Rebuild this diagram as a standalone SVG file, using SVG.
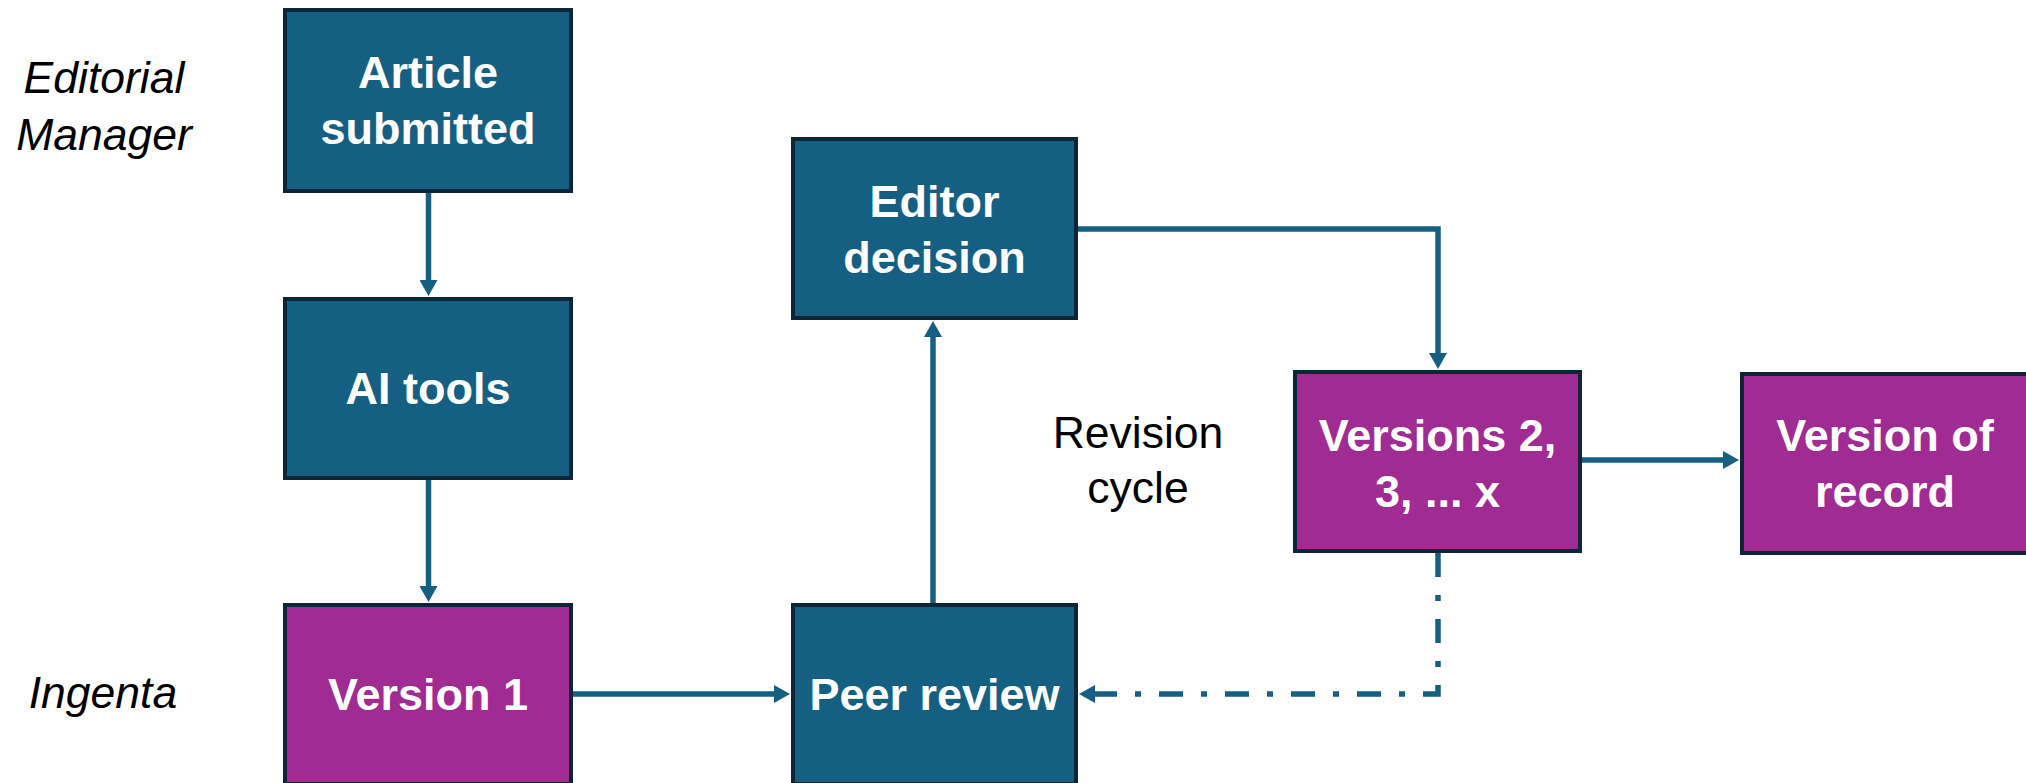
<svg xmlns="http://www.w3.org/2000/svg" width="2026" height="783" viewBox="0 0 2026 783">
<style>
.box{stroke:#0c2638;stroke-width:4}
.blue{fill:#156082}
.purple{fill:#a02b93}
.lbl{font-family:"Liberation Sans",Arial,sans-serif;font-weight:bold;font-size:45px;fill:#ffffff;text-anchor:middle}
.side{font-family:"Liberation Sans",Arial,sans-serif;font-style:italic;font-size:44.5px;fill:#000000;text-anchor:middle}
.note{font-family:"Liberation Sans",Arial,sans-serif;font-size:44.5px;fill:#000000;text-anchor:middle}
.conn{fill:none;stroke:#156082;stroke-width:5.5}
.dash{stroke-dasharray:24 18 6 18}
</style>
<defs>
<marker id="ah" markerUnits="userSpaceOnUse" markerWidth="17" markerHeight="18" refX="1" refY="9" orient="auto">
<path d="M0,0 L16,9 L0,18 z" fill="#156082"/>
</marker>
</defs>
<rect width="2026" height="783" fill="#ffffff"/>
<g id="side-labels">
<text class="side" x="104" y="93">Editorial</text>
<text class="side" x="104" y="150">Manager</text>
<text class="side" x="103" y="708">Ingenta</text>
<text class="note" x="1138" y="448">Revision</text>
<text class="note" x="1138" y="503">cycle</text>
</g>
<g id="connectors">
<path class="conn" d="M428.5,193 V281" marker-end="url(#ah)"/>
<path class="conn" d="M428.5,480 V587" marker-end="url(#ah)"/>
<path class="conn" d="M573,694 H775" marker-end="url(#ah)"/>
<path class="conn" d="M933,603 V336" marker-end="url(#ah)"/>
<path class="conn" d="M1078,229 H1438 V354" marker-end="url(#ah)"/>
<path class="conn" d="M1582,460 H1724" marker-end="url(#ah)"/>
<path class="conn dash" d="M1438,553 V694 H1094" marker-end="url(#ah)"/>
</g>
<g id="node-article-submitted">
<rect class="box blue" x="285" y="10" width="286" height="181"/>
<text class="lbl" x="428" y="88">Article</text>
<text class="lbl" x="428" y="144">submitted</text>
</g>
<g id="node-ai-tools">
<rect class="box blue" x="285" y="299" width="286" height="179"/>
<text class="lbl" x="428" y="404">AI tools</text>
</g>
<g id="node-version-1">
<rect class="box purple" x="285" y="605" width="286" height="179"/>
<text class="lbl" x="428" y="710">Version 1</text>
</g>
<g id="node-peer-review">
<rect class="box blue" x="793" y="605" width="283" height="179"/>
<text class="lbl" x="934.5" y="710">Peer review</text>
</g>
<g id="node-editor-decision">
<rect class="box blue" x="793" y="139" width="283" height="179"/>
<text class="lbl" x="934.5" y="217">Editor</text>
<text class="lbl" x="934.5" y="273">decision</text>
</g>
<g id="node-versions-2-x">
<rect class="box purple" x="1295" y="372" width="285" height="179"/>
<text class="lbl" x="1437.5" y="451">Versions 2,</text>
<text class="lbl" x="1437.5" y="507">3, ... x</text>
</g>
<g id="node-version-of-record">
<rect class="box purple" x="1742" y="374" width="286" height="179"/>
<text class="lbl" x="1885" y="451">Version of</text>
<text class="lbl" x="1885" y="507">record</text>
</g>
</svg>
